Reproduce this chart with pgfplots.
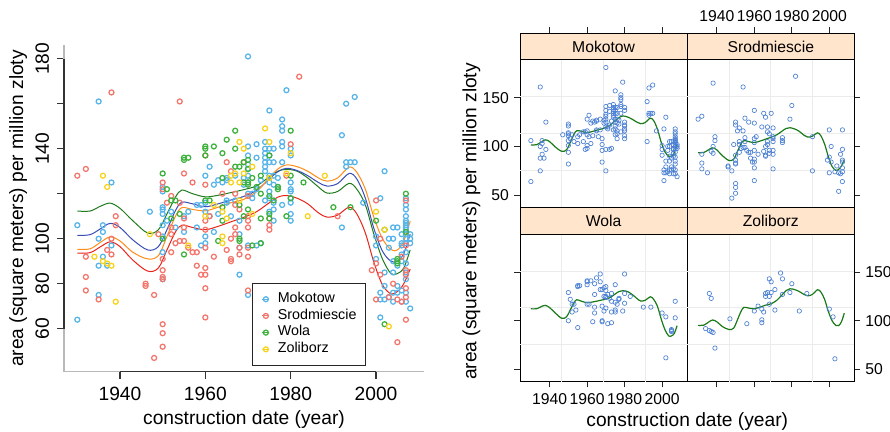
\documentclass[border=0pt]{standalone}
\usepackage{pgfplots}
\pgfplotsset{compat=1.18}
\usepackage{pgfplotstable}
\usepackage{fontspec}
\setmainfont{Liberation Sans}
\definecolor{cM}{HTML}{56B4E9}
\definecolor{cS}{HTML}{F4756B}
\definecolor{cW}{HTML}{3CB13C}
\definecolor{cZ}{HTML}{F8D21A}
\definecolor{lM}{HTML}{3A4DB5}
\definecolor{lS}{HTML}{E8231A}
\definecolor{lW}{HTML}{1E7B1E}
\definecolor{lZ}{HTML}{FF8C1A}
\definecolor{lat}{HTML}{4A7FD3}
\definecolor{latline}{HTML}{1A7A1A}
\definecolor{stripc}{HTML}{FFE5CC}
\definecolor{gridc}{HTML}{EBEBEB}

\pgfplotstableread{
year value
1930 106
1930 64
1935 161
1935 100
1935 88
1935 75
1936 106
1936 103
1936 92
1937 88
1938 125
1938 97
1947 112
1950 123
1950 121
1950 114
1950 113
1950 111
1950 106
1950 101
1950 94
1950 82
1951 108
1952 112
1953 105
1955 110
1955 103
1956 112
1958 105
1958 115
1959 115
1959 97
1960 128
1960 116
1960 112
1960 101
1960 98
1961 132
1961 110
1962 124
1962 103
1963 111
1963 126
1964 125
1965 127
1965 126
1965 117
1965 116
1966 110
1967 128
1967 117
1968 108
1968 102
1968 84
1968 96
1969 127
1969 124
1970 181
1970 141
1970 137
1970 133
1970 131
1970 128
1970 125
1970 120
1970 75
1970 97
1971 120
1971 118
1972 142
1972 136
1972 122
1972 97
1973 126
1973 98
1974 143
1974 140
1974 138
1974 136
1974 134
1974 132
1974 130
1974 117
1975 157
1975 140
1975 137
1975 134
1975 128
1975 125
1975 121
1975 118
1975 112
1976 140
1976 134
1976 128
1976 124
1976 116
1976 113
1976 108
1977 127
1977 123
1978 153
1978 150
1978 148
1978 143
1978 141
1978 134
1978 115
1979 166
1980 140
1980 137
1980 125
1980 122
1980 121
1980 118
1980 116
1980 111
1980 108
1992 146
1992 105
1993 160
1993 134
1993 132
1994 134
1995 163
1995 134
1997 116
2000 101
2000 91
2000 97
2001 118
2001 76
2001 73
2001 65
2002 130
2002 79
2002 73
2002 85
2003 100
2003 96
2003 74
2004 105
2004 100
2004 90
2004 85
2004 76
2004 72
2005 105
2005 79
2005 76
2005 88
2006 102
2006 97
2006 93
2006 90
2006 77
2006 72
2006 98
2007 118
2007 115
2007 113
2007 110
2007 108
2007 107
2007 106
2007 105
2007 104
2007 102
2007 100
2007 98
2007 94
2007 89
2007 82
2007 76
2007 72
2007 85
2008 102
2008 100
2008 98
2008 69
}\dataM

\pgfplotstableread{
year value
1930 128
1932 131
1932 92
1932 83
1932 77
1935 73
1937 95
1938 165
1938 100
1938 93
1939 110
1939 106
1946 80
1946 79
1948 75
1948 47
1949 102
1950 125
1950 122
1950 91
1950 86
1950 83
1950 82
1950 62
1950 58
1950 52
1951 116
1952 119
1952 105
1952 102
1952 94
1953 98
1954 161
1954 99
1954 116
1955 129
1955 109
1955 105
1955 99
1956 96
1957 125
1957 94
1958 94
1958 88
1959 84
1960 137
1960 124
1960 108
1960 104
1960 96
1960 87
1960 84
1960 78
1960 65
1961 110
1962 92
1964 120
1965 134
1965 95
1966 130
1966 91
1966 90
1966 100
1967 120
1967 115
1967 105
1967 102
1968 96
1968 93
1968 113
1969 134
1970 119
1970 110
1970 105
1970 108
1970 96
1970 92
1970 77
1975 106
1975 104
1975 109
1979 128
1980 142
1982 172
1991 110
1991 75
1999 86
2000 117
2000 89
2000 73
2001 100
2001 84
2003 74
2004 80
2005 73
2005 54
2006 92
2006 72
2007 117
2007 97
2007 84
2007 78
2007 74
2007 64
2007 86
}\dataS

\pgfplotstableread{
year value
1950 129
1950 100
1951 122
1952 117
1952 109
1953 117
1954 111
1955 136
1955 135
1955 93
1956 136
1960 141
1960 140
1960 137
1960 117
1961 117
1962 141
1963 99
1964 138
1964 127
1964 114
1964 108
1965 144
1967 148
1967 140
1967 132
1968 132
1968 115
1968 100
1968 99
1969 134
1969 125
1969 110
1970 135
1970 131
1970 125
1970 124
1970 113
1971 127
1971 97
1972 123
1973 128
1973 120
1973 109
1973 98
1975 137
1975 119
1975 111
1975 109
1976 117
1977 123
1977 122
1979 110
1980 148
1980 128
1980 118
1983 125
1990 114
1994 114
2000 108
2002 104
2002 62
2005 91
2005 89
2005 90
2007 120
2007 103
}\dataW

\pgfplotstableread{
year value
1934 92
1936 128
1936 90
1937 123
1937 89
1938 88
1939 72
1947 102
1956 97
1960 110
1962 115
1964 112
1964 101
1964 98
1965 109
1966 128
1966 125
1967 129
1968 143
1968 125
1968 117
1969 140
1969 129
1971 132
1971 111
1974 149
1975 143
1975 127
1979 129
1980 138
1984 110
1988 128
2000 112
2002 104
2003 61
}\dataZ

\pgfplotstableread{
year M S W Z
1930 101.5 93.6 112.3 95.3
1933 101.8 93.8 112.3 95.5
1935.5 104.5 96.5 114.5 98.5
1937.7 106.8 98.6 115.8 100.8
1940 105 96.5 113.5 99
1943 99.5 90.5 108 94
1946.5 95 85.6 102.5 91
1949 96.5 87 104 92.5
1951 104 95 111 101
1953 112.5 103 118.5 110
1954.5 116.2 106 121.6 113.8
1957 115.5 105 120 113
1960 114.2 104 118.6 112.4
1963 115.5 105.5 119.3 114
1966 117.2 107.5 120.5 116
1969 118.8 109.5 121.8 117.5
1972 121.5 112 123.5 121
1975 126.5 116 127.5 127
1977 129.8 118.5 130 131
1979 131.3 119.2 130.8 132.8
1981.5 130.3 118 130 132
1984 128 115.5 127 130
1986.5 125 111.5 123 127
1988.5 123.4 109.6 120.3 125.6
1991 124.5 110.5 121 127
1993.7 129 114 124.6 131.8
1995.5 126.5 111 122 129.5
1997.5 118 102.5 115 122
1999.5 104.5 89.5 102 109.5
2001.5 94.5 79.5 91 100
2003.5 90 75.5 84.5 95.2
2005 90 76.5 84.5 95
2006.5 93.5 80 87 99
2008 102 86.5 95 107.8
}\curves

\pgfplotsset{
  leftpts/.style={only marks, mark=o, mark size=2.5pt, mark options={line width=1.25pt}},
  latpanel/.style={
    anchor=south west, scale only axis, width=167.2pt, height=174.3pt,
    xmin=1924.2, xmax=2013.4, ymin=37.6, ymax=216.4,
    axis line style={black, line width=0.8pt},
    tick align=outside, major tick length=5.7pt,
    tick style={black!85, line width=0.8pt},
    xtick={1940,1960,1980,2000}, ytick={50,100,150},
    ticklabel style={font=\fontsize{15.7}{17}\selectfont, inner sep=0pt},
    clip=false,
  },
  latpts/.style={only marks, mark=o, mark size=2.2pt, mark options={draw=lat, line width=0.65pt}},
  latcurve/.style={latline, line width=1.2pt, smooth, tension=0.55, no marks},
}
\newcommand{\latgrid}{%
  \draw[gridc, line width=0.9pt] (axis cs:1946.5,37.6) -- (axis cs:1946.5,188.9);
  \draw[gridc, line width=0.9pt] (axis cs:1968.8,37.6) -- (axis cs:1968.8,188.9);
  \draw[gridc, line width=0.9pt] (axis cs:1991.1,37.6) -- (axis cs:1991.1,188.9);
  \draw[gridc, line width=0.9pt] (axis cs:1924.2,75.4) -- (axis cs:2013.4,75.4);
  \draw[gridc, line width=0.9pt] (axis cs:1924.2,113.25) -- (axis cs:2013.4,113.25);
  \draw[gridc, line width=0.9pt] (axis cs:1924.2,151.1) -- (axis cs:2013.4,151.1);
}
\newcommand{\latstrip}[1]{%
  \filldraw[fill=stripc, draw=black, line width=0.8pt] (axis cs:1924.2,188.9) rectangle (axis cs:2013.4,216.4);
  \node[font=\fontsize{15.7}{17}\selectfont] at (axis cs:1968.8,202.65) {#1};
}

\begin{document}
\begin{tikzpicture}
% ---------------- left scatter plot ----------------
\begin{axis}[
  at={(64pt,59.3pt)}, anchor=south west, scale only axis,
  width=360pt, height=326.7pt,
  xmin=1926.88, xmax=2011.24, ymin=40.89, ymax=186.09,
  axis x line*=bottom, axis y line*=left,
  axis line style={gray!55, line width=1.2pt, -},
  xtick={1940,1960,1980,2000}, xticklabels={1940,1960,1980,2000},
  ytick={60,80,100,120,140,160,180}, yticklabels={60,80,100,,140,,180},
  tick align=outside, major tick length=7pt,
  tick style={black!80, line width=1.2pt},
  ticklabel style={font=\fontsize{19.2}{21}\selectfont},
  xticklabel style={anchor=north, inner sep=0pt},
  xticklabel shift=8pt,
  yticklabel style={rotate=90, anchor=south, inner sep=0pt},
  yticklabel shift=7.7pt,
  clip=false,
  legend style={at={(0.523,0.0183)}, anchor=south west, draw=black!85, line width=0.9pt,
    fill=white, font=\fontsize{14.3}{16}\selectfont, inner xsep=9.2pt, inner ysep=7.6pt,
    row sep=0pt, column sep=8pt,
    nodes={inner sep=0pt, text height=11.6pt, text depth=5.1pt}},
  legend cell align=left,
  legend image code/.code={\path (-3.5pt,0pt) -- (3.5pt,0pt); \draw[mark repeat=2,mark phase=2,#1] plot coordinates {(-3pt,0pt) (0pt,0pt) (3pt,0pt)};},
]
\draw[black!80, line width=1.2pt] (axis cs:1940,40.89) -- (axis cs:2000,40.89);
\draw[black!80, line width=1.2pt] (axis cs:1926.88,60) -- (axis cs:1926.88,180);
\addplot[leftpts, cM] table[x=year, y=value] {\dataM};
\addlegendentry{Mokotow}
\addplot[leftpts, cS] table[x=year, y=value] {\dataS};
\addlegendentry{Srodmiescie}
\addplot[leftpts, cW] table[x=year, y=value] {\dataW};
\addlegendentry{Wola}
\addplot[leftpts, cZ] table[x=year, y=value] {\dataZ};
\addlegendentry{Zoliborz}
\addplot[lW, line width=1pt, smooth, tension=0.55, no marks, forget plot] table[x=year, y=W] {\curves};
\addplot[lM, line width=1pt, smooth, tension=0.55, no marks, forget plot] table[x=year, y=M] {\curves};
\addplot[lZ, line width=1pt, smooth, tension=0.55, no marks, forget plot] table[x=year, y=Z] {\curves};
\addplot[lS, line width=1pt, smooth, tension=0.55, no marks, forget plot] table[x=year, y=S] {\curves};
\end{axis}
\node[rotate=90, anchor=base, font=\fontsize{19.2}{21}\selectfont] at (23pt,222.5pt) {area (square meters) per million zloty};
\node[anchor=base, font=\fontsize{19.2}{21}\selectfont] at (244pt,6.8pt) {construction date (year)};

% ---------------- right lattice plot ----------------
% Mokotow
\begin{axis}[latpanel, at={(520pt,223.7pt)},
  xtick pos=right, xticklabels={},
  ytick pos=left, yticklabels={50,100,150},
  yticklabel style={anchor=east}, yticklabel shift=5.3pt]
\latgrid
\addplot[latpts] table[x=year, y=value] {\dataM};
\addplot[latcurve] table[x=year, y=M] {\curves};
\latstrip{Mokotow}
\end{axis}
% Srodmiescie
\begin{axis}[latpanel, at={(687.2pt,223.7pt)},
  xtick pos=right, xticklabels={1940,1960,1980,2000},
  xticklabel style={anchor=south}, xticklabel shift=5.3pt,
  ytick pos=right, yticklabels={}]
\latgrid
\addplot[latpts] table[x=year, y=value] {\dataS};
\addplot[latcurve] table[x=year, y=S] {\curves};
\latstrip{Srodmiescie}
\end{axis}
% Wola
\begin{axis}[latpanel, at={(520pt,49.4pt)},
  xtick pos=left, xticklabels={1940,1960,1980,2000},
  xticklabel style={anchor=north}, xticklabel shift=5.9pt,
  ytick pos=left, yticklabels={}]
\latgrid
\addplot[latpts] table[x=year, y=value] {\dataW};
\addplot[latcurve] table[x=year, y=W] {\curves};
\latstrip{Wola}
\end{axis}
% Zoliborz
\begin{axis}[latpanel, at={(687.2pt,49.4pt)},
  xtick pos=left, xticklabels={},
  ytick pos=right, yticklabels={50,100,150},
  yticklabel style={anchor=west}, yticklabel shift=5pt]
\latgrid
\addplot[latpts] table[x=year, y=value] {\dataZ};
\addplot[latcurve] table[x=year, y=Z] {\curves};
\latstrip{Zoliborz}
\end{axis}
\node[rotate=90, anchor=base, font=\fontsize{19.2}{21}\selectfont] at (476.4pt,209.5pt) {area (square meters) per million zloty};
\node[anchor=base, font=\fontsize{19.2}{21}\selectfont] at (687.3pt,4.8pt) {construction date (year)};

\pgfresetboundingbox
\path (0pt,0pt) rectangle (890pt,431pt);
\end{tikzpicture}
\end{document}
